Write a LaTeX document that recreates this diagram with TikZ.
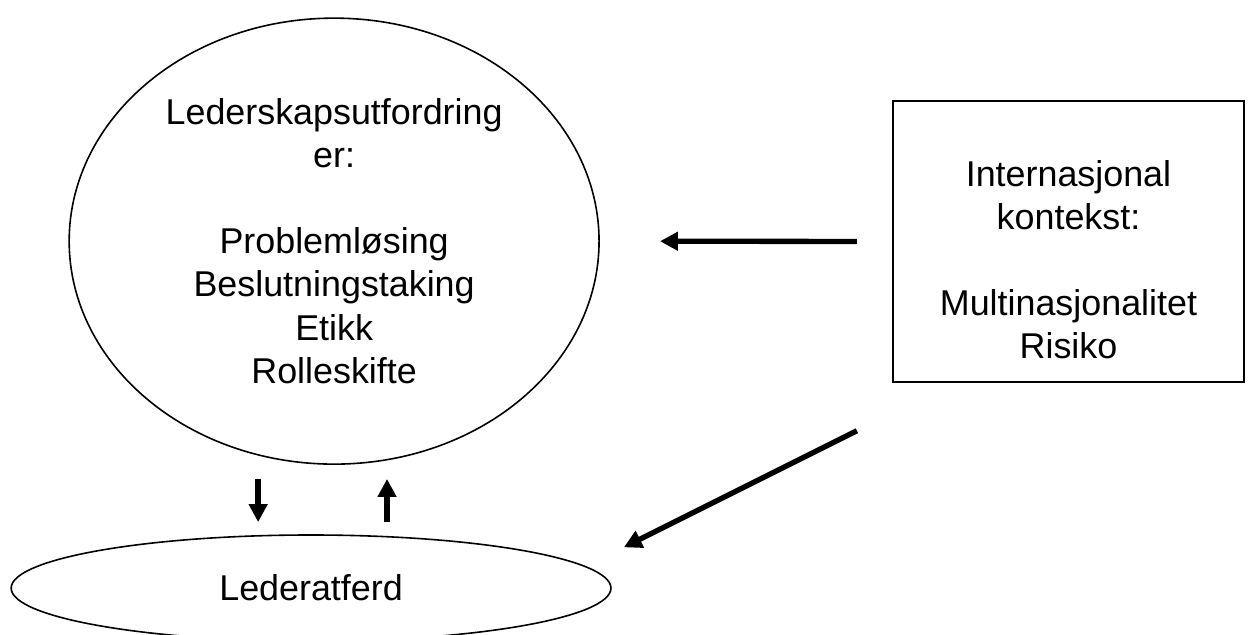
\documentclass[tikz,border=0pt]{standalone}
\usepackage{fontspec}
\setmainfont{Liberation Sans}
\usetikzlibrary{shapes.geometric, arrows.meta, positioning, calc}
\newcommand{\diafont}{\fontsize{27}{32.4}\selectfont}
\tikzset{
  oval/.style={ellipse, draw=black, inner sep=0pt, align=center,
    font=\diafont, line width=1.2pt},
  framebox/.style={rectangle, draw=black, minimum width=9.29cm,
    minimum height=7.43cm, line width=1.2pt},
  boxtext/.style={align=center, font=\diafont},
  boldarrow/.style={-{Triangle[length=13.5pt, width=13.5pt]}, line width=4pt, color=black}
}

\begin{document}
\begin{tikzpicture}
  \useasboundingbox (0,0) rectangle (33.02,-16.80);

  % Leadership challenges and behaviour
  \node[oval, minimum width=14.02cm, minimum height=11.80cm] (chal) at (8.84,-6.38)
    {Lederskapsutfordring\\er:\\[32.4pt]Problemløsing\\Beslutningstaking\\Etikk\\Rolleskifte};
  \node[oval, minimum width=15.87cm, minimum height=2.81cm] (beh) at (8.23,-15.56) {Lederatferd};

  % International context
  \node[framebox] (box) at (28.27,-6.39) {};
  \node[boxtext] (ctx) at ([yshift=-0.49cm]box.center)
    {Internasjonal\\kontekst:\\[32.4pt]Multinasjonalitet\\Risiko};

  % Arrows
  \coordinate (ctx_out) at ([xshift=-0.93cm, yshift=-1.27cm]box.south west);
  \coordinate (beh_in) at ([xshift=0.32cm, yshift=1.08cm]beh.east);
  \draw[boldarrow, shorten <=0.93cm, shorten >=1.59cm] (box.west) -- (chal.east);
  \draw[boldarrow] (ctx_out) -- (beh_in);
  \draw[boldarrow, shorten <=0.37cm, shorten >=0.32cm] ([xshift=-2.01cm]chal.south) -- ([xshift=-2.01cm]chal.south |- beh.north);
  \draw[boldarrow, shorten <=0.32cm, shorten >=0.37cm] ([xshift=1.40cm]chal.south |- beh.north) -- ([xshift=1.40cm]chal.south);
\end{tikzpicture}
\end{document}
